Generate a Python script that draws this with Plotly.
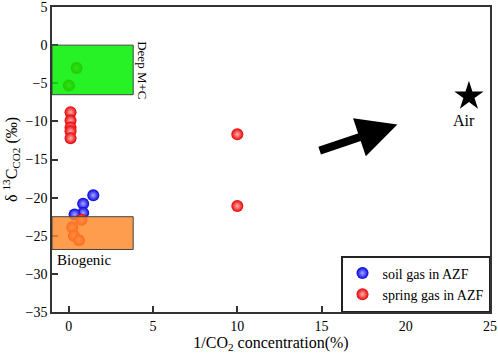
import plotly.graph_objects as go

# Data
soil_x = [1.45, 0.85, 0.85, 0.34]
soil_y = [-19.7, -20.8, -22.0, -22.2]
spring_x = [0.1, 0.1, 0.1, 0.1, 0.1, 10.0, 10.0, 0.46, 0.0, 0.75, 0.2, 0.3, 0.6]
spring_y = [-8.8, -9.9, -10.8, -11.3, -12.2, -11.7, -21.1, -3.0, -5.3, -22.9, -23.9, -25.0, -25.6]
air_x = [23.75]
air_y = [-6.7]
deep_box_x = [-1, 3.82]
deep_box_y = [-6.5, 0]
bio_box_x = [-1, 3.82]
bio_box_y = [-26.8, -22.5]
arrow_tail = [14.8, -13.9]
arrow_head = [19.5, -10.4]
x_ticks = [0, 5, 10, 15, 20, 25]
y_ticks = [5, 0, -5, -10, -15, -20, -25, -30, -35]

FONT = "Liberation Serif"

fig = go.Figure()
fig.add_trace(go.Scatter(
    x=soil_x, y=soil_y, mode="markers", name="soil gas in AZF",
    marker=dict(size=12, color="#0000e0", gradient=dict(type="radial", color="#a8a8ff"),
                line=dict(width=0))))
fig.add_trace(go.Scatter(
    x=spring_x, y=spring_y, mode="markers", name="spring gas in AZF",
    marker=dict(size=12, color="#e80000", gradient=dict(type="radial", color="#ffb0b0"),
                line=dict(width=0))))
fig.add_trace(go.Scatter(
    x=air_x, y=air_y, mode="markers", showlegend=False,
    marker=dict(size=22, symbol="star", color="black")))

fig.add_shape(type="rect", xref="x", yref="y", x0=deep_box_x[0], x1=deep_box_x[1],
              y0=deep_box_y[0], y1=deep_box_y[1], fillcolor="rgba(0,240,0,0.85)",
              line=dict(color="#444444", width=1), layer="above")
fig.add_shape(type="rect", xref="x", yref="y", x0=bio_box_x[0], x1=bio_box_x[1],
              y0=bio_box_y[0], y1=bio_box_y[1], fillcolor="rgba(255,135,40,0.82)",
              line=dict(color="#444444", width=1), layer="above")

fig.add_annotation(x=deep_box_x[1], y=(deep_box_y[0] + deep_box_y[1]) / 2,
                   text="Deep M+C", textangle=90, showarrow=False, xanchor="left",
                   xshift=-1, font=dict(family=FONT, size=13, color="black"))
fig.add_annotation(x=-0.85, y=bio_box_y[0], text="Biogenic", showarrow=False,
                   xanchor="left", yanchor="top", yshift=-1,
                   font=dict(family=FONT, size=15, color="black"))
fig.add_annotation(x=air_x[0], y=air_y[0], text="Air", showarrow=False,
                   yanchor="top", yshift=-14, xshift=-5,
                   font=dict(family=FONT, size=16, color="black"))
fig.add_annotation(x=arrow_head[0], y=arrow_head[1], ax=arrow_tail[0], ay=arrow_tail[1],
                   xref="x", yref="y", axref="x", ayref="y", text="", showarrow=True,
                   arrowhead=2, arrowsize=1.0, arrowwidth=8, arrowcolor="black", standoff=0)

axis_common = dict(showline=True, linecolor="#333333", linewidth=1.5, mirror=True,
                   ticks="inside", ticklen=6, tickcolor="#333333", tickwidth=1.5,
                   showgrid=False, zeroline=False, automargin=False,
                   ticklabeloverflow="allow",
                   tickfont=dict(family=FONT, size=14, color="black"))
fig.update_xaxes(range=[-1, 25], tickvals=x_ticks,
                 title=dict(text="1/CO<sub>2</sub> concentration(%)",
                            font=dict(family=FONT, size=16, color="black"), standoff=4),
                 **axis_common)
fig.update_yaxes(range=[-35, 5], tickvals=y_ticks,
                 title=dict(text="δ <sup>13</sup>C<sub>CO2</sub> (‰)",
                            font=dict(family=FONT, size=16, color="black"), standoff=6),
                 **axis_common)

fig.update_layout(
    width=498, height=361, margin=dict(l=52, r=8, t=7, b=49),
    font=dict(family=FONT, color="black"),
    plot_bgcolor="white", paper_bgcolor="white",
    legend=dict(x=1, y=0, xanchor="right", yanchor="bottom",
                bgcolor="white", bordercolor="#222222", borderwidth=1.5,
                font=dict(family=FONT, size=14, color="black"),
                itemsizing="constant", tracegroupgap=0),
)

fig.write_html("out.html", config={"displayModeBar": False},
               post_script="document.body.style.margin='0';")
